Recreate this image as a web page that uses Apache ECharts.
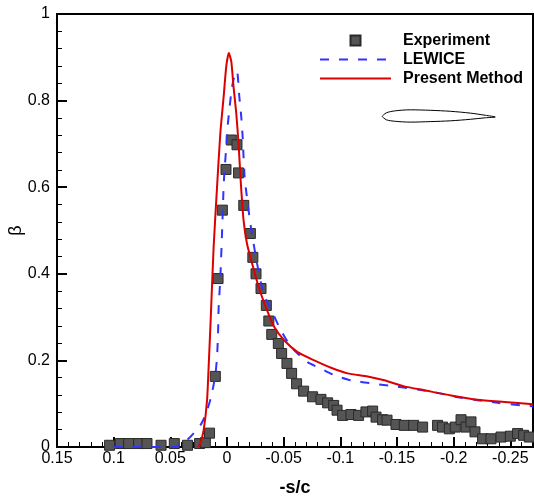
<!DOCTYPE html>
<html>
<head>
<meta charset="utf-8">
<script src="https://cdn.jsdelivr.net/npm/echarts@6/dist/echarts.min.js"></script>
<style>
html,body{margin:0;padding:0;background:#fff;}
#c{width:534px;height:497px;}
</style>
</head>
<body>
<div id="c"></div>
<script>
// Experiment (squares)
var expX = [0.1036,0.0941,0.0868,0.0780,0.0706,0.0582,0.0465,0.0348,0.0242,0.0191,0.0154,0.0103,0.0079,0.0041,0.0009,-0.0038,-0.0088,-0.0102,-0.0148,-0.0206,-0.0228,-0.0256,-0.0300,-0.0347,-0.0369,-0.0395,-0.0453,-0.0482,-0.0529,-0.0570,-0.0614,-0.0676,-0.0755,-0.0829,-0.0888,-0.0941,-0.0971,-0.1020,-0.1094,-0.1161,-0.1226,-0.1285,-0.1315,-0.1373,-0.1412,-0.1491,-0.1564,-0.1647,-0.1726,-0.1858,-0.1902,-0.1962,-0.2014,-0.2065,-0.2109,-0.2153,-0.2188,-0.2255,-0.2329,-0.2418,-0.2500,-0.2564,-0.2617,-0.2667];
var expY = [0.004,0.008,0.008,0.008,0.008,0.004,0.008,0.004,0.008,0.010,0.032,0.163,0.389,0.547,0.641,0.709,0.698,0.633,0.558,0.493,0.438,0.400,0.366,0.327,0.291,0.260,0.239,0.216,0.193,0.170,0.146,0.129,0.116,0.110,0.102,0.096,0.085,0.073,0.075,0.073,0.081,0.083,0.069,0.063,0.062,0.052,0.050,0.050,0.046,0.050,0.046,0.042,0.046,0.063,0.046,0.058,0.035,0.019,0.019,0.023,0.025,0.031,0.027,0.023];

// LEWICE (dashed blue)
var lewX = [0.1000,0.0456,0.0397,0.0324,0.0236,0.0191,0.0141,0.0103,0.0088,0.0079,0.0074,0.0059,0.0044,0.0030,0.0021,0.0006,-0.0005,-0.0023,-0.0044,-0.0064,-0.0088,-0.0109,-0.0126,-0.0138,-0.0146,-0.0155,-0.0161,-0.0206,-0.0265,-0.0323,-0.0388,-0.0461,-0.0565,-0.0711,-0.0829,-0.0947,-0.1094,-0.1300,-0.1505,-0.1682,-0.1858,-0.2035,-0.2211,-0.2388,-0.2594,-0.2700];
var lewY = [0.000,0.000,0.008,0.023,0.050,0.073,0.115,0.166,0.208,0.262,0.320,0.390,0.493,0.600,0.643,0.693,0.739,0.785,0.831,0.855,0.868,0.808,0.762,0.716,0.670,0.624,0.608,0.516,0.424,0.354,0.318,0.277,0.231,0.196,0.181,0.166,0.154,0.146,0.139,0.133,0.125,0.115,0.108,0.102,0.096,0.094];

// Present Method (solid red)
var presX = [0.0253,0.0236,0.0206,0.0176,0.0162,0.0143,0.0118,0.0088,0.0059,0.0030,0.0006,-0.0016,-0.0038,-0.0058,-0.0082,-0.0102,-0.0122,-0.0146,-0.0176,-0.0206,-0.0279,-0.0353,-0.0417,-0.0506,-0.0623,-0.0770,-0.0918,-0.1064,-0.1241,-0.1388,-0.1564,-0.1741,-0.1976,-0.2211,-0.2447,-0.2700];
var presY = [0.000,0.008,0.039,0.108,0.185,0.300,0.462,0.600,0.724,0.808,0.880,0.910,0.890,0.831,0.770,0.700,0.610,0.524,0.470,0.439,0.370,0.316,0.277,0.246,0.219,0.200,0.183,0.170,0.163,0.154,0.140,0.131,0.119,0.109,0.104,0.099];

// Airfoil outline (inset sketch), data coordinates
var foilX = [-0.1368,-0.1406,-0.1485,-0.1617,-0.1794,-0.1971,-0.2147,-0.2279,-0.2367,-0.2279,-0.2147,-0.1971,-0.1794,-0.1617,-0.1485,-0.1406,-0.1368];
var foilY = [0.7637,0.7718,0.7764,0.7787,0.7776,0.7753,0.7711,0.7661,0.7621,0.7603,0.7568,0.7533,0.7515,0.7503,0.7522,0.7557,0.7637];

var seriesNames = ['Experiment','LEWICE','Present Method'];

function zip(a,b){ return a.map(function(v,i){ return [v,b[i]]; }); }

var FONT = 'Liberation Sans, Arial, Helvetica, sans-serif';
var noSym = {color:'rgba(0,0,0,0)', borderColor:'rgba(0,0,0,0)', borderWidth:0};
var chart = echarts.init(document.getElementById('c'), null, {renderer:'canvas'});
chart.setOption({
  backgroundColor:'#ffffff',
  animation:false,
  grid:{left:57, right:1, top:14, bottom:50, show:true, borderColor:'#000', borderWidth:2, backgroundColor:'transparent', containLabel:false, outerBoundsMode:'none'},
  legend:{
    orient:'vertical', left:319, top:31, itemGap:0, padding:0,
    itemWidth:71, itemHeight:10,
    textStyle:{fontFamily:FONT, fontSize:16, fontWeight:'bold', color:'#000', lineHeight:19, padding:[0,0,0,7]},
    data:[
      {name:seriesNames[0], icon:'path://M0,0L10,0L10,10L0,10Z'},
      {name:seriesNames[1], itemStyle:noSym},
      {name:seriesNames[2], itemStyle:noSym}
    ]
  },
  xAxis:{
    type:'value', inverse:true, min:-0.27, max:0.15, splitNumber:8,
    name:'-s/c', nameLocation:'middle', nameGap:32, nameMoveOverlap:false,
    nameTextStyle:{fontFamily:FONT, fontSize:18, fontWeight:'bold', color:'#000'},
    axisLine:{show:true, onZero:false, lineStyle:{color:'#000', width:2}},
    axisTick:{show:true, inside:true, length:10, lineStyle:{color:'#000', width:2}},
    minorTick:{show:true, splitNumber:5, length:5, lineStyle:{color:'#000', width:1}},
    splitLine:{show:false},
    axisLabel:{fontFamily:FONT, fontSize:16, color:'#000', margin:4, showMinLabel:false}
  },
  yAxis:{
    type:'value', min:0, max:1, interval:0.2,
    name:'β', nameLocation:'middle', nameGap:32, nameMoveOverlap:false,
    nameTextStyle:{fontFamily:FONT, fontSize:18, color:'#000'},
    axisLine:{show:true, onZero:false, lineStyle:{color:'#000', width:2}},
    axisTick:{show:true, inside:true, length:10, lineStyle:{color:'#000', width:2}},
    minorTick:{show:true, splitNumber:5, length:5, lineStyle:{color:'#000', width:1}},
    splitLine:{show:false},
    axisLabel:{fontFamily:FONT, fontSize:16, color:'#000', margin:7}
  },
  series:[
    {
      name:seriesNames[1], type:'line', data:zip(lewX,lewY), showSymbol:false, symbol:'none',
      smooth:0.2, color:'#3333ff', z:3,
      lineStyle:{color:'#3333ff', width:2, type:[9,10]}
    },
    {
      name:seriesNames[2], type:'line', data:zip(presX,presY), showSymbol:false, symbol:'none',
      smooth:0.2, color:'#dd0000', z:4,
      lineStyle:{color:'#dd0000', width:2}
    },
    {
      name:seriesNames[0], type:'scatter', data:zip(expX,expY), symbol:'rect', symbolSize:10,
      itemStyle:{color:'#555555', borderColor:'#2a2a2a', borderWidth:1, opacity:1}, z:2
    },
    {
      name:'airfoil', type:'line', data:zip(foilX,foilY), showSymbol:false, symbol:'none',
      smooth:0.3, silent:true, color:'#000', lineStyle:{color:'#000', width:1}, z:5
    }
  ]
});
</script>
</body>
</html>
